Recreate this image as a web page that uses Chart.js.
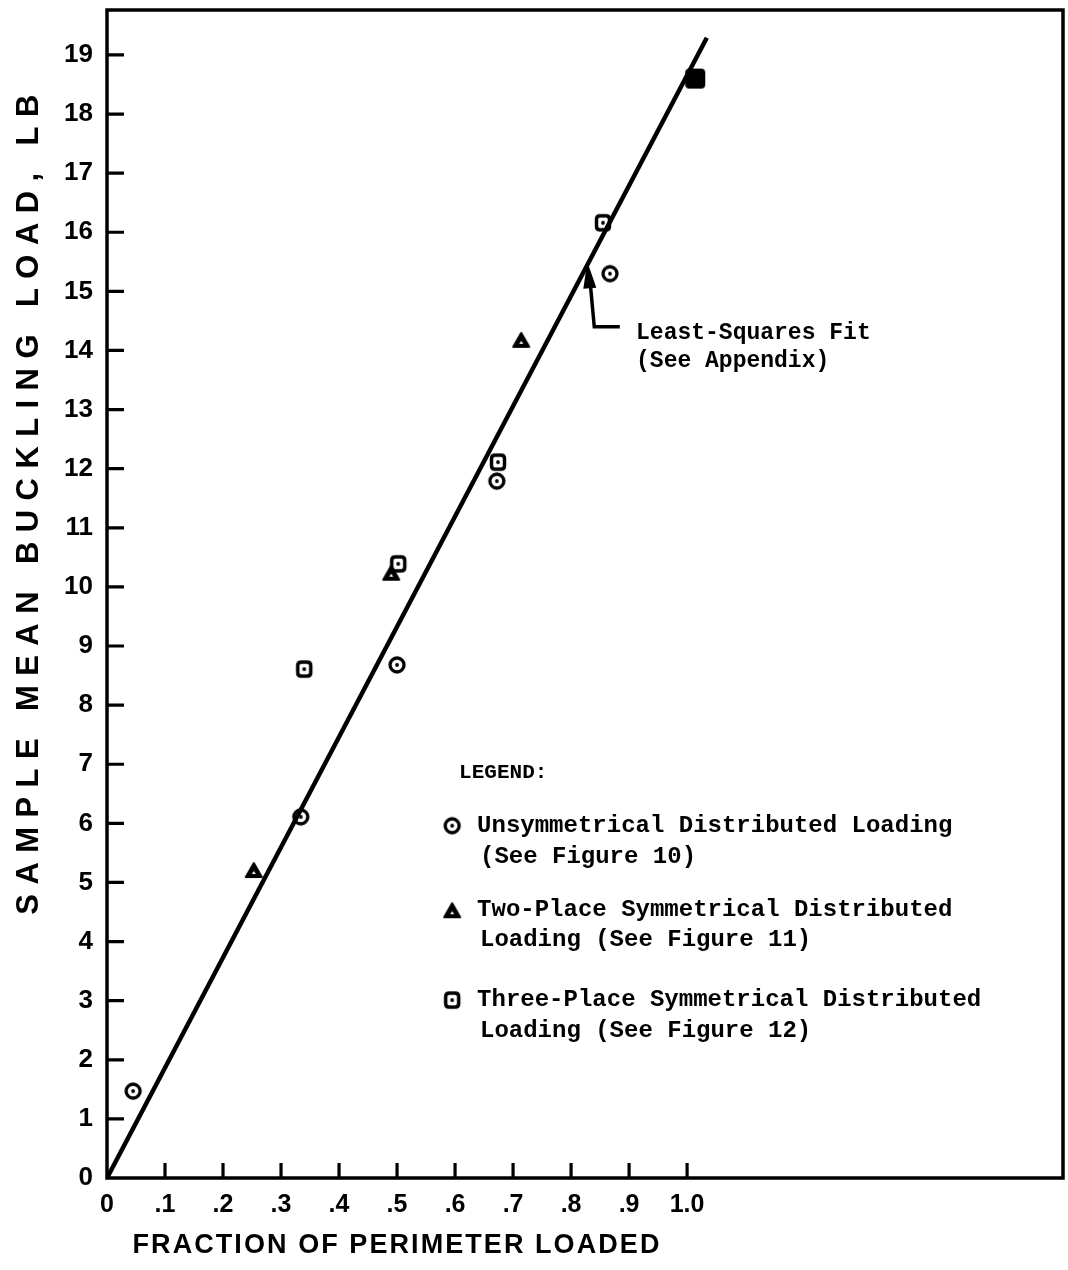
<!DOCTYPE html>
<html>
<head>
<meta charset="utf-8">
<script src="https://cdn.jsdelivr.net/npm/chart.js@4.4.1/dist/chart.umd.min.js"></script>
<style>
  html, body { margin: 0; padding: 0; background: #fff; }
  #wrap { width: 1068px; height: 1270px; }
</style>
</head>
<body>
<div id="wrap"><canvas id="c" width="1068" height="1270"></canvas></div>
<script>
// ---- data ----
const unsymFraction = [0.045, 0.334, 0.500, 0.672, 0.867];
const unsymLoad     = [1.47, 6.11, 8.68, 11.79, 15.30];

const twoFraction = [0.253, 0.490, 0.714];
const twoLoad     = [5.21, 10.24, 14.18];

const threeFraction = [0.340, 0.502, 0.674, 0.855, 1.014];
const threeLoad     = [8.61, 10.39, 12.11, 16.16, 18.60];
const threeSolid    = [false, false, false, false, true];

const fitFraction = [0, 1.034];
const fitLoad     = [0, 19.29];

const xTickValues = [0, 0.1, 0.2, 0.3, 0.4, 0.5, 0.6, 0.7, 0.8, 0.9, 1.0];
const xTickLabels = ['0', '.1', '.2', '.3', '.4', '.5', '.6', '.7', '.8', '.9', '1.0'];
const yTickValues = [0,1,2,3,4,5,6,7,8,9,10,11,12,13,14,15,16,17,18,19];
const yTickLabels = ['0','1','2','3','4','5','6','7','8','9','10','11','12','13','14','15','16','17','18','19'];

const xTitle = 'FRACTION OF PERIMETER LOADED';
const yTitle = 'SAMPLE MEAN BUCKLING LOAD, LB';
const fitNote = ['Least-Squares Fit', '(See Appendix)'];
const legendTitle = 'LEGEND:';
const legendItems = [
  ['Unsymmetrical Distributed Loading', '(See Figure 10)'],
  ['Two-Place Symmetrical Distributed', 'Loading (See Figure 11)'],
  ['Three-Place Symmetrical Distributed', 'Loading (See Figure 12)']
];

// ---- marker images ----
function makeCanvas(w, h) { const c = document.createElement('canvas'); c.width = w; c.height = h; return c; }
function circleImg() {
  const c = makeCanvas(20, 20), g = c.getContext('2d');
  g.strokeStyle = '#000'; g.lineWidth = 3.3;
  g.beginPath(); g.arc(10, 10, 7, 0, Math.PI * 2); g.stroke();
  g.fillStyle = '#000'; g.beginPath(); g.arc(10, 10, 1.9, 0, Math.PI * 2); g.fill();
  return c;
}
function roundRectPath(g, x, y, w, h, r) {
  g.beginPath();
  g.moveTo(x + r, y); g.lineTo(x + w - r, y); g.quadraticCurveTo(x + w, y, x + w, y + r);
  g.lineTo(x + w, y + h - r); g.quadraticCurveTo(x + w, y + h, x + w - r, y + h);
  g.lineTo(x + r, y + h); g.quadraticCurveTo(x, y + h, x, y + h - r);
  g.lineTo(x, y + r); g.quadraticCurveTo(x, y, x + r, y); g.closePath();
}
function squareImg() {
  const c = makeCanvas(20, 20), g = c.getContext('2d');
  g.strokeStyle = '#000'; g.lineWidth = 3.5;
  roundRectPath(g, 3.5, 3, 13, 14, 3.5); g.stroke();
  g.fillStyle = '#000'; g.beginPath(); g.arc(10, 10, 1.9, 0, Math.PI * 2); g.fill();
  return c;
}
function solidSquareImg() {
  const c = makeCanvas(24, 24), g = c.getContext('2d');
  g.fillStyle = '#000';
  roundRectPath(g, 2, 2, 20, 20, 4); g.fill();
  return c;
}
function triangleImg() {
  const c = makeCanvas(20, 18), g = c.getContext('2d');
  g.fillStyle = '#000'; g.strokeStyle = '#000'; g.lineWidth = 2; g.lineJoin = 'round';
  g.beginPath(); g.moveTo(10, 2); g.lineTo(18, 16); g.lineTo(2, 16); g.closePath(); g.fill(); g.stroke();
  g.fillStyle = '#fff';
  g.beginPath(); g.moveTo(10, 10); g.lineTo(12, 13); g.lineTo(8, 13); g.closePath(); g.fill();
  return c;
}
const imgCircle = circleImg(), imgSquare = squareImg(), imgSolid = solidSquareImg(), imgTri = triangleImg();

const toPts = (xs, ys) => xs.map((x, i) => ({ x: x, y: ys[i] }));

const LEFT = 107, BOTTOM_SPACE = 92;

function fitText(g, text, target) {
  const w0 = g.measureText(text).width;
  g.letterSpacing = ((target - w0) / (text.length - 1)).toFixed(2) + 'px';
}

// ---- decorations plugin ----
const decor = {
  id: 'decor',
  afterDraw(chart) {
    const g = chart.ctx, a = chart.chartArea;
    const xs = chart.scales.x, ys = chart.scales.y;
    g.save();
    // frame
    g.strokeStyle = '#000'; g.lineWidth = 3.5;
    g.strokeRect(a.left, a.top, a.right - a.left, a.bottom - a.top);
    // inside ticks
    g.lineWidth = 3.2;
    g.beginPath();
    yTickValues.forEach(v => { if (v === 0) return; const y = ys.getPixelForValue(v); g.moveTo(a.left, y); g.lineTo(a.left + 17, y); });
    xTickValues.forEach(v => { if (v === 0) return; const x = xs.getPixelForValue(v); g.moveTo(x, a.bottom); g.lineTo(x, a.bottom - 15); });
    g.stroke();

    // axis titles
    g.fillStyle = '#000';
    g.textBaseline = 'middle';
    g.textAlign = 'center';
    g.font = 'bold 27px "Liberation Sans"';
    g.letterSpacing = '0px';
    fitText(g, xTitle, 527);
    g.fillText(xTitle, 397, 1246);
    g.letterSpacing = '0px';

    g.font = 'bold 31px "Liberation Sans"';
    fitText(g, yTitle, 820);
    g.save();
    g.translate(29, 500);
    g.rotate(-Math.PI / 2);
    g.fillText(yTitle, 0, 0);
    g.restore();
    g.letterSpacing = '0px';

    // least-squares annotation arrow
    const tipX = xs.getPixelForValue(0.828), tipY = ys.getPixelForValue(15.50);
    const bendX = xs.getPixelForValue(0.840), bendY = ys.getPixelForValue(14.40);
    const endX = xs.getPixelForValue(0.884);
    g.fillStyle = '#000';
    g.beginPath();
    g.moveTo(tipX, tipY); g.lineTo(tipX + 9, tipY + 26); g.lineTo(tipX - 4, tipY + 27); g.closePath(); g.fill();
    g.lineWidth = 3.5; g.lineJoin = 'miter';
    g.beginPath();
    g.moveTo(tipX + 3, tipY + 22); g.lineTo(bendX, bendY); g.lineTo(endX, bendY);
    g.stroke();

    g.textAlign = 'left';
    g.font = 'bold 23px "Liberation Mono"';
    const noteX = xs.getPixelForValue(0.912);
    g.fillText(fitNote[0], noteX, ys.getPixelForValue(14.30));
    g.fillText(fitNote[1], noteX, ys.getPixelForValue(13.81));

    // legend
    g.font = 'bold 21px "Liberation Mono"';
    g.fillText(legendTitle, xs.getPixelForValue(0.607), ys.getPixelForValue(6.85));
    const markers = [imgCircle, imgTri, imgSquare];
    const rows = [[5.96, 5.43], [4.53, 4.03], [3.01, 2.49]];
    const mx = xs.getPixelForValue(0.595);
    const tx1 = xs.getPixelForValue(0.638), tx2 = xs.getPixelForValue(0.643);
    g.font = 'bold 24px "Liberation Mono"';
    legendItems.forEach((item, i) => {
      const y1 = ys.getPixelForValue(rows[i][0]), y2 = ys.getPixelForValue(rows[i][1]);
      const m = markers[i];
      g.drawImage(m, mx - m.width / 2, y1 - m.height / 2);
      g.fillText(item[0], tx1, y1);
      g.fillText(item[1], tx2, y2);
    });
    g.restore();
  }
};

function noPad(s) { s.paddingTop = 0; s.paddingBottom = 0; s.paddingLeft = 0; s.paddingRight = 0; }

new Chart(document.getElementById('c'), {
  type: 'scatter',
  data: {
    datasets: [
      { label: 'Least-Squares Fit', data: toPts(fitFraction, fitLoad), showLine: true,
        borderColor: '#000', borderWidth: 4.5, pointRadius: 0, fill: false, order: 2 },
      { label: legendItems[0].join(' '), data: toPts(unsymFraction, unsymLoad),
        pointStyle: imgCircle, pointRadius: 10, order: 1 },
      { label: legendItems[1].join(' '), data: toPts(twoFraction, twoLoad),
        pointStyle: imgTri, pointRadius: 10, order: 1 },
      { label: legendItems[2].join(' '), data: toPts(threeFraction, threeLoad),
        pointStyle: ctx => threeSolid[ctx.dataIndex] ? imgSolid : imgSquare, pointRadius: 10, order: 1 }
    ]
  },
  options: {
    responsive: false,
    animation: false,
    devicePixelRatio: 1,
    layout: { autoPadding: false, padding: { left: 0, top: 10, right: 5, bottom: 0 } },
    plugins: { legend: { display: false }, tooltip: { enabled: false } },
    scales: {
      x: {
        type: 'linear', min: 0, max: 1.648,
        grid: { display: false, drawTicks: false },
        border: { display: false },
        afterBuildTicks: s => { s.ticks = xTickValues.map(v => ({ value: v })); },
        afterFit: s => { s.height = BOTTOM_SPACE; noPad(s); },
        ticks: {
          autoSkip: false, maxRotation: 0, padding: 12, color: '#000',
          font: { family: 'Liberation Sans', size: 25, weight: 'bold' },
          callback: (v) => xTickLabels[xTickValues.indexOf(v)] ?? ''
        }
      },
      y: {
        type: 'linear', min: 0, max: 19.76,
        grid: { display: false, drawTicks: false },
        border: { display: false },
        afterBuildTicks: s => { s.ticks = yTickValues.map(v => ({ value: v })); },
        afterFit: s => { s.width = LEFT; noPad(s); },
        ticks: {
          autoSkip: false, padding: 14, color: '#000',
          font: { family: 'Liberation Sans', size: 26, weight: 'bold' },
          callback: (v) => yTickLabels[yTickValues.indexOf(v)] ?? ''
        }
      }
    }
  },
  plugins: [decor]
});
</script>
</body>
</html>
